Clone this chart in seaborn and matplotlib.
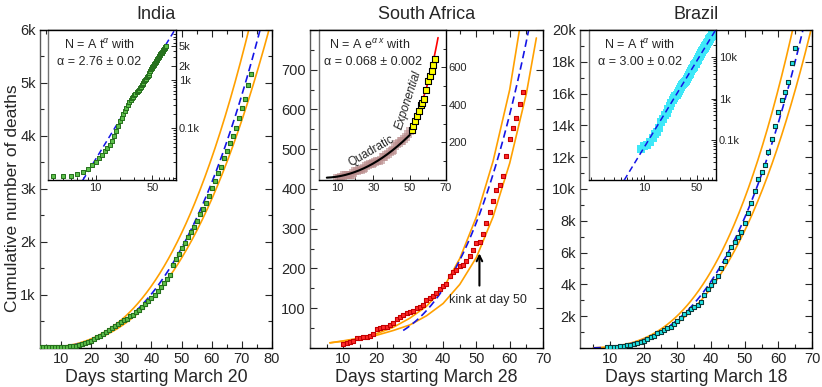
import numpy as np
import matplotlib
matplotlib.use('Agg')
import matplotlib.pyplot as plt
import seaborn as sns
from matplotlib.ticker import FixedLocator, FixedFormatter, MultipleLocator, NullFormatter, LogLocator

# ---- data ----
india_days = list(range(3, 74))
india_deaths = [10, 10, 10, 11, 12, 14, 17, 20, 24, 28, 33, 38, 45, 55, 70, 85, 110, 140,
                165, 200, 230, 265, 305, 345, 380, 420, 450, 485, 520, 555, 595, 625, 670,
                715, 770, 830, 885, 950, 1000, 1070, 1160, 1220, 1300, 1370, 1560, 1670,
                1770, 1880, 1990, 2090, 2190, 2290, 2400, 2530, 2630, 2740, 2870, 3010,
                3160, 3300, 3420, 3580, 3720, 3870, 4000, 4160, 4340, 4530, 4700, 4970, 5170]

sa_days = list(range(10, 65))
sa_deaths = [11, 12, 16, 18, 24, 25, 27, 28, 29, 35, 47, 50, 52, 54, 58, 62, 72, 79, 83,
             87, 90, 94, 101, 103, 109, 120, 125, 131, 138, 148, 155, 162, 182, 190, 195,
             207, 208, 218, 231, 246, 263, 266, 288, 314, 341, 370, 398, 410, 432, 482,
             526, 554, 579, 614, 645]

brazil_days = list(range(9, 66))
brazil_deaths = [60, 70, 75, 90, 110, 140, 160, 200, 270, 330, 400, 460, 565, 670, 775, 920,
                 1030, 1130, 1240, 1340, 1510, 1700, 1870, 2140, 2280, 2430, 2560, 2700,
                 2910, 3330, 3700, 3960, 4230, 4530, 5010, 5490, 5890, 6330, 6690, 6960,
                 7310, 7880, 8510, 9140, 9870, 10610, 11090, 11510, 12350, 13130, 13960,
                 14820, 15600, 16080, 16750, 17940, 18850]
# the Brazil inset runs a few days further
brazil_extra_days = list(range(66, 81))
brazil_extra_deaths = [19900, 20900, 21800, 22700, 23500, 24500, 25600, 26800, 27900,
                       28800, 29900, 31200, 32500, 34000, 35500]

# fitted models shown in the panels
india_fit = (0.0386, 2.76)
brazil_fit = (0.0656, 3.00)
sa_fit = (5.29e-4, 3.4)
sa_quad = (12.5, -0.45, 0.1)
sa_exp = (8.77, 0.068)
band_hi, band_lo = 1.15, 0.9

sa_upper_days = [6, 10, 15, 20, 25, 30, 35, 40, 45, 50, 55, 60, 63]
sa_upper = [13, 18, 25, 36, 52, 75, 105, 150, 225, 330, 470, 650, 804]
sa_lower_days = [6, 10, 15, 20, 25, 30, 35, 40, 45, 50, 55, 60, 65, 68]
sa_lower = [13, 17, 23, 32, 44, 58, 81, 112, 160, 228, 330, 465, 640, 780]

ORANGE = '#ffa000'
BLUE = '#1414e6'

sns.set_style('ticks', {'xtick.direction': 'in', 'ytick.direction': 'in'})
plt.rcParams['font.family'] = ['Liberation Sans', 'DejaVu Sans']
plt.rcParams['mathtext.fontset'] = 'custom'
plt.rcParams['mathtext.rm'] = 'Liberation Sans'
plt.rcParams['mathtext.it'] = 'Liberation Sans:italic'


def power(t, p):
    return p[0] * np.asarray(t, dtype=float) ** p[1]


def style_main(ax, xlim, ylim, xticks, ymin, yticks, ylabels):
    ax.set_xlim(*xlim)
    ax.set_ylim(*ylim)
    ax.xaxis.set_major_locator(FixedLocator(xticks))
    ax.xaxis.set_minor_locator(MultipleLocator(5))
    ax.yaxis.set_major_locator(FixedLocator(yticks))
    ax.yaxis.set_minor_locator(MultipleLocator(ymin))
    ax.set_yticklabels(ylabels)
    ax.tick_params(which='both', direction='in', top=True, right=True, labelsize=10.5,
                   width=0.8, pad=3)
    ax.tick_params(which='major', length=5)
    ax.tick_params(which='minor', length=3)
    for s in ax.spines.values():
        s.set_visible(True)
        s.set_linewidth(1.0)
        s.set_color('black')
    ax.spines['left'].set_color('0.35')


def style_inset(ax):
    ax.set_facecolor('white')
    for s in ax.spines.values():
        s.set_visible(True)
        s.set_linewidth(1.0)
        s.set_color('black')
    ax.spines['left'].set_color('0.45')
    ax.yaxis.tick_right()
    ax.tick_params(which='both', direction='in', labelsize=8, left=False, right=True,
                   top=False, pad=2, width=0.7)
    ax.tick_params(which='major', length=3.5)
    ax.tick_params(which='minor', length=2)


fig = plt.figure(figsize=(8.22, 3.87), dpi=100)
ax1 = fig.add_axes([0.0487, 0.1008, 0.2822, 0.8217])
ax2 = fig.add_axes([0.3771, 0.1008, 0.2835, 0.8217])
ax3 = fig.add_axes([0.7056, 0.1008, 0.2822, 0.8217])
MS = 11

# ---------------- India ----------------
t = np.linspace(10, 82, 300)
for k in (band_hi, band_lo):
    sns.lineplot(x=t, y=k * power(t, india_fit), color=ORANGE, lw=1.2, ax=ax1)
t = np.linspace(3, 82, 300)
sns.lineplot(x=t, y=power(t, india_fit), color=BLUE, lw=1.2, ax=ax1)
ax1.lines[-1].set_dashes((4.5, 2.5))
sns.scatterplot(x=india_days, y=india_deaths, marker='s', s=MS, color='#5cc04a',
                edgecolor='#256f1c', linewidth=0.8, ax=ax1, zorder=3)
style_main(ax1, (3, 80), (0, 6000), list(range(10, 81, 10)), 500,
           [1000, 2000, 3000, 4000, 5000, 6000], ['1k', '2k', '3k', '4k', '5k', '6k'])
ax1.set_title('India', fontsize=13, pad=8)
ax1.set_xlabel('Days starting March 20', fontsize=12.8, labelpad=2)
ax1.set_ylabel('Cumulative number of deaths', fontsize=12.5, labelpad=2)
ax1.yaxis.set_label_coords(-0.085, 0.47)

in1 = fig.add_axes([0.0584, 0.5349, 0.1557, 0.3876])
style_inset(in1)
t = np.linspace(6, 110, 200)
sns.lineplot(x=t, y=power(t, india_fit), color=BLUE, lw=1.1, ax=in1)
in1.lines[-1].set_dashes((4, 2.5))
sns.scatterplot(x=india_days, y=india_deaths, marker='s', s=MS, color='#5cc04a',
                edgecolor='#256f1c', linewidth=0.7, ax=in1, zorder=3)
in1.set_xscale('log')
in1.set_yscale('log')
in1.set_xlim(2.6, 98)
in1.set_ylim(8.3, 11000)
in1.xaxis.set_major_locator(FixedLocator([10, 50]))
in1.xaxis.set_major_formatter(FixedFormatter(['10', '50']))
in1.xaxis.set_minor_locator(LogLocator(base=10, subs=np.arange(2, 10)))
in1.xaxis.set_minor_formatter(NullFormatter())
in1.yaxis.set_major_locator(FixedLocator([100, 1000, 2000, 5000]))
in1.yaxis.set_major_formatter(FixedFormatter(['0.1k', '1k', '2k', '5k']))
in1.yaxis.set_minor_locator(LogLocator(base=10, subs=np.arange(2, 10)))
in1.yaxis.set_minor_formatter(NullFormatter())
in1.set_xlabel('')
in1.set_ylabel('')
in1.text(0.40, 0.90, r'N = A t$^{\alpha}$ with', transform=in1.transAxes,
         ha='center', va='center', fontsize=9)
in1.text(0.40, 0.787, 'α = 2.76 ± 0.02', transform=in1.transAxes,
         ha='center', va='center', fontsize=9)

# ---------------- South Africa ----------------
sns.lineplot(x=sa_upper_days, y=sa_upper, color=ORANGE, lw=1.2, ax=ax2)
sns.lineplot(x=sa_lower_days, y=sa_lower, color=ORANGE, lw=1.2, ax=ax2)
t = np.linspace(28, 68, 300)
sns.lineplot(x=t, y=power(t, sa_fit), color=BLUE, lw=1.2, ax=ax2)
ax2.lines[-1].set_dashes((4.5, 2.5))
sns.scatterplot(x=sa_days, y=sa_deaths, marker='s', s=MS, color='#ff2a2a',
                edgecolor='#c40000', linewidth=0.8, ax=ax2, zorder=3)
style_main(ax2, (0, 70), (0, 800), list(range(10, 71, 10)), 50,
           [100, 200, 300, 400, 500, 600, 700, 800],
           ['100', '200', '300', '400', '500', '600', '700', ''])
ax2.set_title('South Africa', fontsize=13, pad=8)
ax2.set_xlabel('Days starting March 28', fontsize=12.8, labelpad=2)
ax2.annotate('', xy=(50.9, 245), xytext=(50.9, 150),
             arrowprops=dict(arrowstyle='->', color='black', lw=1.5))
ax2.text(53.6, 120, 'kink at day 50', ha='center', va='center', fontsize=9)

in2 = fig.add_axes([0.3881, 0.5349, 0.1545, 0.3876])
style_inset(in2)
sa_d = np.array(sa_days)
sa_n = np.array(sa_deaths)
early = sa_d <= 50
sns.scatterplot(x=sa_d[early], y=sa_n[early], marker='s', s=30, color='#b98c8c',
                alpha=0.6, linewidth=0, ax=in2)
t = np.linspace(4.3, 50, 200)
sns.lineplot(x=t, y=sa_quad[0] + sa_quad[1] * t + sa_quad[2] * t ** 2, color='black',
             lw=1.5, ax=in2)
t = np.linspace(50, 65.6, 100)
sns.lineplot(x=t, y=sa_exp[0] * np.exp(sa_exp[1] * t), color='red', lw=1.2, ax=in2,
             zorder=2)
sns.scatterplot(x=sa_d[~early], y=sa_n[~early], marker='s', s=14, color='#ffff00',
                edgecolor='black', linewidth=0.8, ax=in2, zorder=3)
in2.set_xlim(0, 70)
in2.set_ylim(0, 800)
in2.xaxis.set_major_locator(FixedLocator([10, 30, 50, 70]))
in2.xaxis.set_minor_locator(MultipleLocator(10))
in2.yaxis.set_major_locator(FixedLocator([200, 400, 600]))
in2.yaxis.set_minor_locator(MultipleLocator(100))
in2.set_xlabel('')
in2.set_ylabel('')
in2.text(0.40, 0.90, r'N = A e$^{\alpha\ x}$ with', transform=in2.transAxes,
         ha='center', va='center', fontsize=9)
in2.text(0.425, 0.787, 'α = 0.068 ± 0.002', transform=in2.transAxes,
         ha='center', va='center', fontsize=9)
in2.text(0.415, 0.19, 'Quadratic', transform=in2.transAxes, rotation=30,
         ha='center', va='center', fontsize=8.5)
in2.text(0.70, 0.535, 'Exponential', transform=in2.transAxes, rotation=72,
         ha='center', va='center', fontsize=8.5, style='italic')

# ---------------- Brazil ----------------
t = np.linspace(5, 75, 300)
for k in (band_hi, band_lo):
    sns.lineplot(x=t, y=k * power(t, brazil_fit), color=ORANGE, lw=1.2, ax=ax3)
sns.lineplot(x=t, y=power(t, brazil_fit), color=BLUE, lw=1.2, ax=ax3)
ax3.lines[-1].set_dashes((4.5, 2.5))
sns.scatterplot(x=brazil_days, y=brazil_deaths, marker='s', s=MS, color='#1ee6e6',
                edgecolor='#0b3b3b', linewidth=0.8, ax=ax3, zorder=3)
style_main(ax3, (1, 70), (0, 20000), list(range(10, 71, 10)), 1000,
           list(range(2000, 20001, 2000)), [f'{k}k' for k in range(2, 21, 2)])
ax3.set_title('Brazil', fontsize=13, pad=8)
ax3.set_xlabel('Days starting March 18', fontsize=12.8, labelpad=2)

in3 = fig.add_axes([0.7165, 0.5349, 0.1545, 0.3876])
style_inset(in3)
sns.scatterplot(x=brazil_days + brazil_extra_days, y=brazil_deaths + brazil_extra_deaths,
                marker='s', s=30, color='#3ee8f8', linewidth=0, ax=in3)
t = np.linspace(4, 100, 200)
sns.lineplot(x=t, y=power(t, brazil_fit), color=BLUE, lw=1.1, ax=in3, zorder=3)
in3.lines[-1].set_dashes((4, 2.5))
in3.set_xscale('log')
in3.set_yscale('log')
in3.set_xlim(1.88, 89)
in3.set_ylim(10.9, 44800)
in3.xaxis.set_major_locator(FixedLocator([10, 50]))
in3.xaxis.set_major_formatter(FixedFormatter(['10', '50']))
in3.xaxis.set_minor_locator(LogLocator(base=10, subs=np.arange(2, 10)))
in3.xaxis.set_minor_formatter(NullFormatter())
in3.yaxis.set_major_locator(FixedLocator([100, 1000, 10000]))
in3.yaxis.set_major_formatter(FixedFormatter(['0.1k', '1k', '10k']))
in3.yaxis.set_minor_locator(LogLocator(base=10, subs=np.arange(2, 10)))
in3.yaxis.set_minor_formatter(NullFormatter())
in3.set_xlabel('')
in3.set_ylabel('')
in3.text(0.40, 0.90, r'N = A t$^{\alpha}$ with', transform=in3.transAxes,
         ha='center', va='center', fontsize=9)
in3.text(0.40, 0.787, 'α = 3.00 ± 0.02', transform=in3.transAxes,
         ha='center', va='center', fontsize=9)

fig.savefig('out.png', dpi=100)
